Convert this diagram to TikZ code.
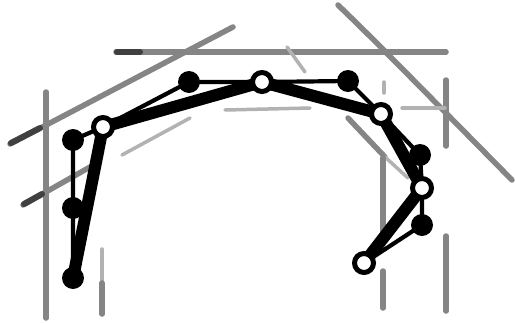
\documentclass[tikz,border=0pt]{standalone}
\usetikzlibrary{backgrounds}
\begin{document}
\begin{tikzpicture}[x=1pt,y=-1pt,
  knot/.style={circle,fill=black,inner sep=0pt,minimum size=22pt},
  ring/.style={circle,draw=black,fill=white,line width=5pt,inner sep=0pt,minimum size=19pt},
  thinleg/.style={line width=4.2pt,line join=round,line cap=round},
  thickleg/.style={line width=12pt,line join=round,line cap=round},
  screen/.style={line width=5.5pt,black!48,line cap=round},
  faint/.style={line width=3.5pt,black!30,line cap=round},
  heavyend/.style={line width=6pt,black!75,line cap=round}]
\useasboundingbox (0,0) rectangle (515,322);

% control points (filled) and refined points (open)
\node[knot] (a) at (73,278) {};
\node[knot] (b) at (73,208) {};
\node[knot] (c) at (73,140) {};
\node[knot] (d) at (189,82) {};
\node[knot] (e) at (348,81) {};
\node[knot] (f) at (420,155) {};
\node[knot] (g) at (422,225) {};
\node[ring] (p1) at (103,127) {};
\node[ring] (p2) at (262,82) {};
\node[ring] (p3) at (381,114) {};
\node[ring] (p4) at (422,188) {};
\node[ring] (p5) at (364,263) {};

\begin{pgfonlayer}{background}
  \fill[white] (0,0) rectangle (515,322);
  % halftone construction lines
  \draw[screen] (46,92) -- (46,318);
  \draw[screen] (10,144) -- (233,27);
  \draw[heavyend] (11,143) -- (40,128);
  \draw[screen] (116,52) -- (446,52);
  \draw[heavyend] (117,52) -- (140,52);
  \draw[screen] (338,5) .. controls (372,38) .. (512,180);
  \draw[screen] (446,80) -- (446,146);
  \draw[faint] (402,108) -- (445,108);
  \draw[faint] (225,110) -- (310,108);
  \draw[faint] (122,155) -- (190,118);
  \draw[screen] (23,205) -- (90,167);
  \draw[heavyend] (24,204) -- (42,194);
  \draw[faint] (102,249) -- (102,283);
  \draw[screen] (102,283) -- (102,314);
  \draw[screen] (348,118) -- (385,157);
  \draw[faint] (385,157) -- (408,178);
  \draw[screen] (383,158) -- (383,232);
  \draw[screen] (383,271) -- (383,308);
  \draw[screen] (446,236) -- (446,311);
  \draw[faint] (384,82) -- (384,93);
  \draw[faint] (287,47) -- (305,72);
  % control polygon and refined polygon
  \draw[thinleg] (a.center) -- (b.center) -- (c.center) -- (p1.center) -- (d.center)
    -- (p2.center) -- (e.center) -- (p3.center) -- (f.center) -- (p4.center)
    -- (g.center) -- (p5.center);
  \draw[thickleg] (a.center) -- (p1.center) -- (p2.center) -- (p3.center)
    -- (p4.center) -- (p5.center);
\end{pgfonlayer}
\end{tikzpicture}
\end{document}
